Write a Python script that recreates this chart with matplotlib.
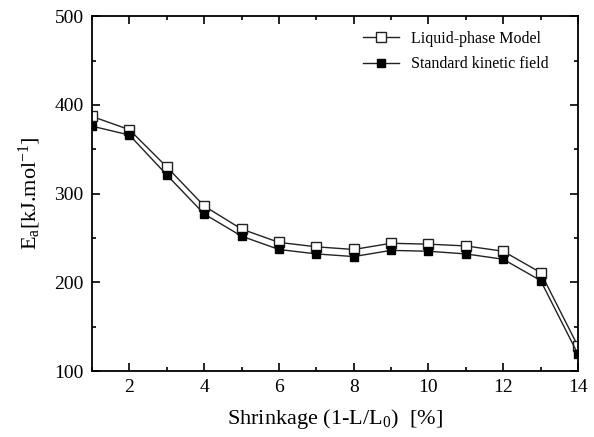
import matplotlib
matplotlib.use("Agg")
import matplotlib.pyplot as plt
from matplotlib.ticker import MultipleLocator

# shrinkage values and activation energies
shrinkage = [1, 2, 3, 4, 5, 6, 7, 8, 9, 10, 11, 12, 13, 14]
liquid_phase = [387, 372, 330, 286, 260, 245, 240, 237, 244, 243, 241, 235, 211, 128]
standard_kinetic = [376, 366, 321, 277, 252, 237, 232, 229, 236, 235, 232, 226, 202, 119]

plt.rcParams['font.family'] = ['Liberation Serif', 'DejaVu Serif']
plt.rcParams['mathtext.fontset'] = 'custom'
plt.rcParams['mathtext.rm'] = 'Liberation Serif'
plt.rcParams['mathtext.it'] = 'Liberation Serif'
plt.rcParams['mathtext.default'] = 'regular'

fig = plt.figure(figsize=(5.94, 4.37), dpi=100)
ax = fig.add_axes([0.155, 0.151, 0.818, 0.812])

ax.plot(shrinkage, liquid_phase, color='#222222', lw=1.0, marker='s', ms=7,
        mfc='white', mec='#222222', mew=1.0, label='Liquid-phase Model')
ax.plot(shrinkage, standard_kinetic, color='#222222', lw=1.0, marker='s', ms=6,
        mfc='black', mec='black', label='Standard kinetic field')

ax.set_xlim(1, 14)
ax.set_ylim(100, 500)
ax.xaxis.set_major_locator(MultipleLocator(2))
ax.xaxis.set_minor_locator(MultipleLocator(1))
ax.yaxis.set_major_locator(MultipleLocator(100))
ax.yaxis.set_minor_locator(MultipleLocator(50))
ax.tick_params(which='both', direction='in', top=True, right=True, labelsize=14, width=1.2)
ax.tick_params(which='major', length=6, pad=6)
ax.tick_params(which='minor', length=3)
for s in ax.spines.values():
    s.set_linewidth(1.3)

ax.set_xlabel('Shrinkage (1-L/L$_0$)  [%]', fontsize=16, labelpad=8)
ax.set_ylabel('E$_a$[kJ.mol$^{-1}$]', fontsize=16, labelpad=8)

ax.legend(loc='upper right', frameon=False, fontsize=11.5, handlelength=2.2,
          labelspacing=0.6, bbox_to_anchor=(0.97, 1.0))

fig.savefig('out.png', dpi=100)
